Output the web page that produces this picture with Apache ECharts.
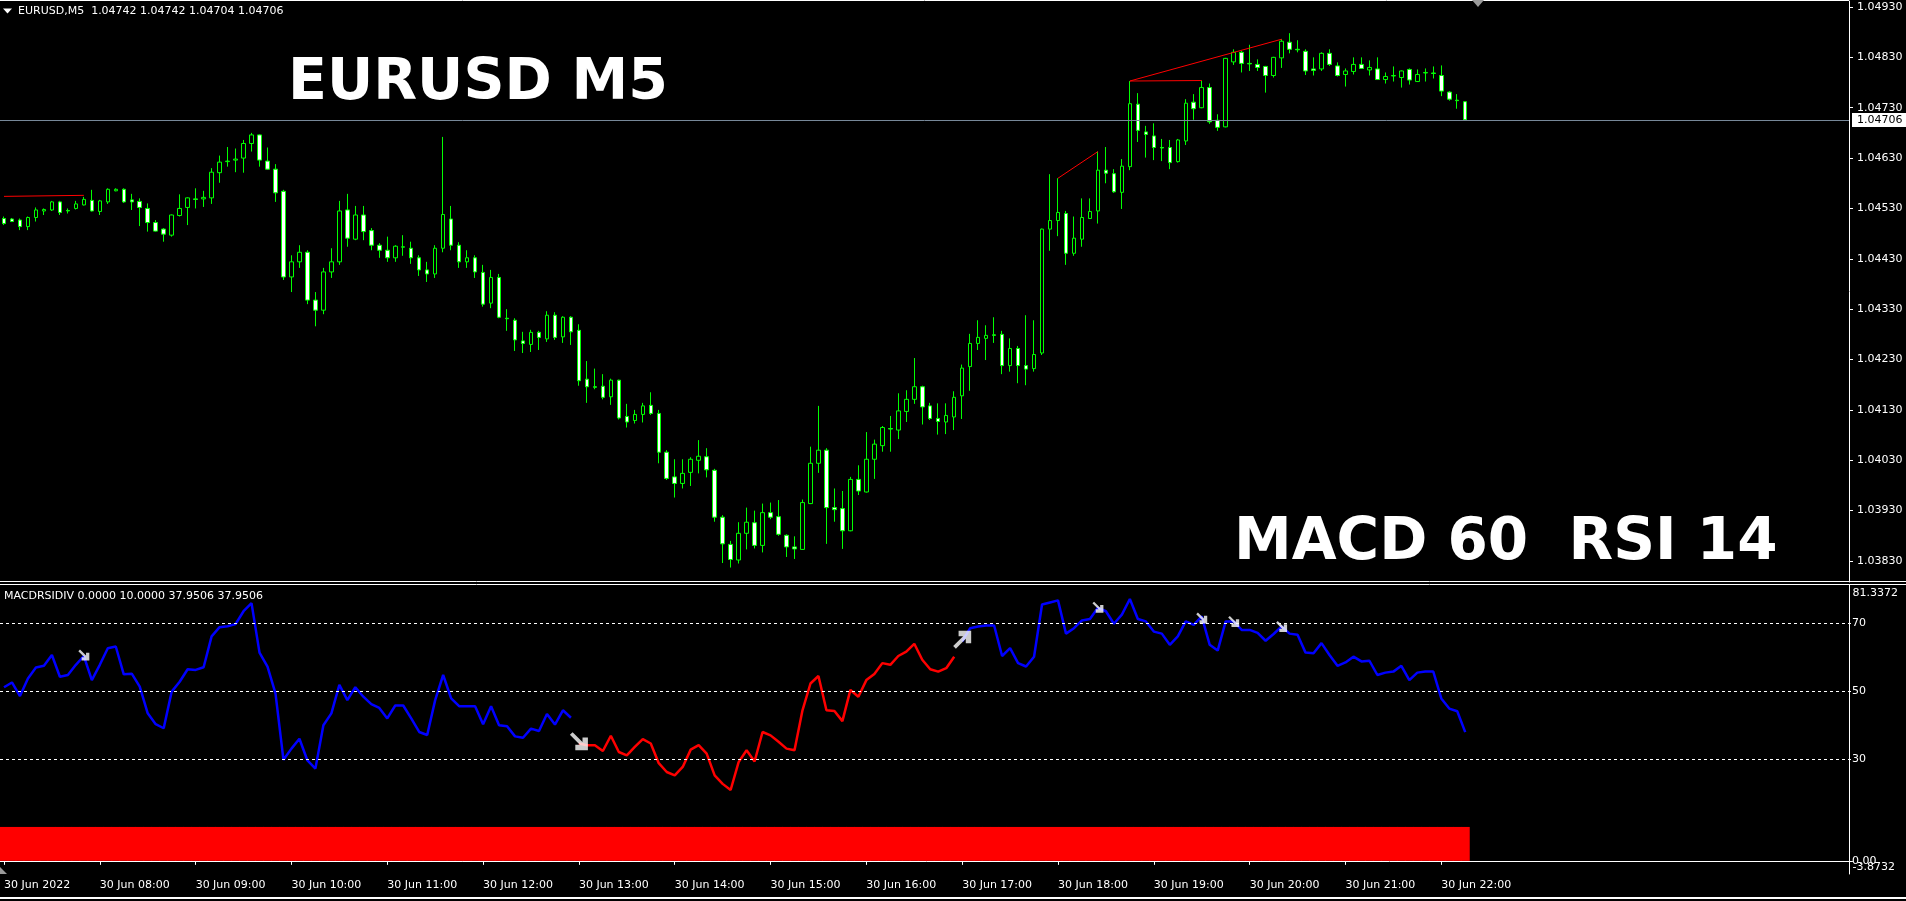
<!DOCTYPE html>
<html>
<head>
<meta charset="utf-8">
<title>EURUSD M5 - MACD 60 RSI 14</title>
<script src="https://cdn.jsdelivr.net/npm/echarts@6/dist/echarts.min.js"></script>
<style>
  html, body { margin: 0; padding: 0; background: #000; }
  #chart { width: 1906px; height: 901px; }
</style>
</head>
<body>
<div id="chart"></div>
<script>
// EURUSD M5, 30 Jun 2022, bars from 07:00 to 22:15
const opens = [
  1.04510,1.04509,1.04507,1.04494,1.04512,1.04525,1.04527,1.04543,1.04526,1.04530,
  1.04537,1.04546,1.04524,1.04543,1.04565,1.04568,1.04547,1.04544,1.04530,1.04502,
  1.04489,1.04477,1.04516,1.04532,1.04549,1.04549,1.04551,1.04601,1.04623,1.04626,
  1.04630,1.04659,1.04676,1.04624,1.04608,1.04564,1.04394,1.04424,1.04443,1.04348,
  1.04328,1.04404,1.04424,1.04527,1.04469,1.04517,1.04486,1.04457,1.04447,1.04432,
  1.04453,1.04451,1.04432,1.04408,1.04400,1.04451,1.04509,1.04457,1.04424,1.04432,
  1.04403,1.04342,1.04393,1.04312,1.04308,1.04267,1.04260,1.04284,1.04271,1.04318,
  1.04275,1.04314,1.04288,1.04191,1.04176,1.04177,1.04156,1.04189,1.04117,1.04109,
  1.04121,1.04139,1.04123,1.04046,1.03997,1.03984,1.04006,1.04030,1.04037,1.04010,
  1.03917,1.03863,1.03832,1.03885,1.03906,1.03861,1.03926,1.03918,1.03881,1.03858,
  1.03853,1.03944,1.04024,1.04050,1.03936,1.03934,1.03890,1.03992,1.03967,1.04032,
  1.04059,1.04093,1.04090,1.04127,1.04151,1.04176,1.04138,1.04113,1.04106,1.04116,
  1.04158,1.04216,1.04262,1.04272,1.04279,1.04280,1.04218,1.04252,1.04218,1.04212,
  1.04243,1.04489,1.04506,1.04520,1.04441,1.04469,1.04510,1.04525,1.04606,1.04599,
  1.04562,1.04613,1.04737,1.04682,1.04674,1.04651,1.04651,1.04623,1.04664,1.04741,
  1.04730,1.04770,1.04705,1.04692,1.04821,1.04840,1.04818,1.04816,1.04812,1.04794,
  1.04829,1.04860,1.04846,1.04842,1.04807,1.04807,1.04838,1.04813,1.04796,1.04802,
  1.04816,1.04805,1.04807,1.04786,1.04793,1.04790,1.04806,1.04782,1.04799,1.04799,
  1.04794,1.04761,1.04745,1.04742
];
const closes = [
  1.04500,1.04504,1.04494,1.04512,1.04527,1.04528,1.04543,1.04522,1.04525,1.04539,
  1.04548,1.04525,1.04545,1.04568,1.04568,1.04543,1.04543,1.04532,1.04502,1.04485,
  1.04479,1.04517,1.04530,1.04551,1.04548,1.04552,1.04602,1.04622,1.04624,1.04628,
  1.04659,1.04676,1.04626,1.04608,1.04561,1.04394,1.04424,1.04443,1.04348,1.04328,
  1.04404,1.04424,1.04525,1.04471,1.04517,1.04484,1.04457,1.04447,1.04432,1.04455,
  1.04454,1.04432,1.04408,1.04400,1.04451,1.04518,1.04457,1.04424,1.04432,1.04404,
  1.04340,1.04393,1.04314,1.04311,1.04269,1.04262,1.04284,1.04274,1.04318,1.04274,
  1.04314,1.04285,1.04188,1.04176,1.04175,1.04155,1.04189,1.04114,1.04106,1.04121,
  1.04138,1.04123,1.04046,1.03994,1.03984,1.04004,1.04032,1.04038,1.04011,1.03917,
  1.03864,1.03833,1.03885,1.03907,1.03861,1.03926,1.03917,1.03883,1.03858,1.03854,
  1.03946,1.04024,1.04050,1.03936,1.03932,1.03890,1.03992,1.03969,1.04032,1.04062,
  1.04095,1.04092,1.04128,1.04151,1.04176,1.04136,1.04113,1.04107,1.04119,1.04155,
  1.04213,1.04262,1.04274,1.04278,1.04278,1.04218,1.04252,1.04218,1.04211,1.04240,
  1.04489,1.04506,1.04522,1.04441,1.04471,1.04512,1.04524,1.04606,1.04600,1.04563,
  1.04614,1.04738,1.04685,1.04677,1.04651,1.04650,1.04621,1.04666,1.04739,1.04728,
  1.04770,1.04702,1.04691,1.04828,1.04840,1.04818,1.04817,1.04810,1.04794,1.04830,
  1.04862,1.04846,1.04845,1.04803,1.04804,1.04838,1.04816,1.04794,1.04803,1.04816,
  1.04808,1.04810,1.04786,1.04792,1.04794,1.04803,1.04785,1.04796,1.04800,1.04798,
  1.04763,1.04747,1.04744,1.04706
];
const lows = [
  1.04497,1.04503,1.04487,1.04487,1.04504,1.04517,1.04525,1.04517,1.04520,1.04528,
  1.04536,1.04524,1.04517,1.04539,1.04564,1.04541,1.04527,1.04495,1.04484,1.04484,
  1.04464,1.04474,1.04514,1.04497,1.04530,1.04533,1.04539,1.04581,1.04613,1.04602,
  1.04601,1.04643,1.04613,1.04607,1.04543,1.04388,1.04364,1.04412,1.04340,1.04296,
  1.04320,1.04392,1.04418,1.04454,1.04467,1.04467,1.04447,1.04432,1.04424,1.04424,
  1.04436,1.04420,1.04396,1.04384,1.04392,1.04443,1.04447,1.04412,1.04412,1.04392,
  1.04335,1.04332,1.04312,1.04287,1.04247,1.04243,1.04245,1.04249,1.04265,1.04269,
  1.04263,1.04259,1.04178,1.04144,1.04171,1.04151,1.04140,1.04111,1.04095,1.04103,
  1.04105,1.04120,1.04024,1.03991,1.03956,1.03974,1.03979,1.04004,1.03996,1.03908,
  1.03826,1.03817,1.03825,1.03853,1.03855,1.03847,1.03913,1.03880,1.03838,1.03834,
  1.03852,1.03943,1.04005,1.03864,1.03908,1.03854,1.03889,1.03961,1.03966,1.03993,
  1.04047,1.04047,1.04072,1.04106,1.04142,1.04101,1.04110,1.04081,1.04082,1.04090,
  1.04112,1.04168,1.04249,1.04229,1.04263,1.04201,1.04206,1.04183,1.04179,1.04206,
  1.04239,1.04446,1.04475,1.04418,1.04436,1.04454,1.04509,1.04500,1.04580,1.04561,
  1.04529,1.04606,1.04662,1.04631,1.04626,1.04624,1.04608,1.04621,1.04656,1.04706,
  1.04729,1.04698,1.04684,1.04691,1.04815,1.04800,1.04803,1.04803,1.04760,1.04790,
  1.04809,1.04838,1.04840,1.04795,1.04794,1.04803,1.04813,1.04792,1.04772,1.04796,
  1.04807,1.04794,1.04785,1.04778,1.04782,1.04770,1.04776,1.04781,1.04782,1.04788,
  1.04753,1.04744,1.04728,1.04704
];
const highs = [
  1.04514,1.04511,1.04510,1.04514,1.04532,1.04530,1.04545,1.04545,1.04530,1.04545,
  1.04553,1.04567,1.04547,1.04570,1.04570,1.04570,1.04559,1.04550,1.04540,1.04507,
  1.04491,1.04518,1.04558,1.04552,1.04570,1.04565,1.04610,1.04635,1.04652,1.04649,
  1.04666,1.04680,1.04677,1.04651,1.04618,1.04567,1.04437,1.04457,1.04447,1.04364,
  1.04412,1.04451,1.04545,1.04559,1.04535,1.04535,1.04491,1.04461,1.04474,1.04457,
  1.04477,1.04464,1.04437,1.04424,1.04457,1.04672,1.04535,1.04463,1.04447,1.04437,
  1.04418,1.04408,1.04400,1.04330,1.04312,1.04285,1.04289,1.04287,1.04326,1.04324,
  1.04316,1.04316,1.04300,1.04227,1.04212,1.04201,1.04192,1.04190,1.04142,1.04130,
  1.04144,1.04165,1.04130,1.04050,1.04032,1.04032,1.04036,1.04070,1.04054,1.04013,
  1.03921,1.03870,1.03907,1.03936,1.03930,1.03944,1.03946,1.03951,1.03883,1.03879,
  1.03952,1.04057,1.04138,1.04054,1.03974,1.03969,1.03997,1.04020,1.04086,1.04071,
  1.04098,1.04118,1.04163,1.04169,1.04233,1.04178,1.04144,1.04143,1.04143,1.04167,
  1.04220,1.04281,1.04308,1.04298,1.04314,1.04287,1.04272,1.04257,1.04318,1.04308,
  1.04490,1.04598,1.04590,1.04525,1.04514,1.04550,1.04550,1.04643,1.04652,1.04608,
  1.04628,1.04783,1.04759,1.04694,1.04699,1.04668,1.04666,1.04668,1.04747,1.04757,
  1.04784,1.04778,1.04717,1.04829,1.04846,1.04843,1.04855,1.04826,1.04813,1.04831,
  1.04866,1.04878,1.04864,1.04846,1.04830,1.04840,1.04846,1.04820,1.04808,1.04830,
  1.04830,1.04824,1.04830,1.04800,1.04812,1.04804,1.04808,1.04806,1.04808,1.04812,
  1.04814,1.04763,1.04757,1.04742
];

// MACDRSIDIV oscillator line (RSI 14)
const rsi = [
  51.2,52.6,48.6,53.8,57.0,57.5,60.7,54.3,54.8,57.8,
  60.4,53.3,57.8,62.7,63.2,55.0,55.2,51.4,43.5,40.3,
  39.1,49.9,52.8,56.5,56.3,57.1,66.2,68.9,69.2,69.8,
  73.6,76.0,61.4,57.3,49.4,29.8,33.1,36.0,29.6,27.2,
  40.0,43.5,51.9,47.4,51.2,48.4,46.2,45.1,42.0,45.8,
  45.8,42.0,38.0,37.1,47.4,54.8,47.9,45.6,45.6,45.6,
  40.3,45.6,40.0,39.7,36.7,36.3,39.0,38.3,43.3,40.2,
  44.4,42.2,34.6,34.1,34.1,32.4,36.9,32.1,31.1,33.6,
  35.9,34.6,28.8,26.2,25.2,27.7,32.8,34.1,31.6,25.2,
  22.7,20.9,29.1,32.6,29.3,38.0,37.0,35.1,33.1,32.6,
  44.4,52.3,54.5,44.4,44.2,41.2,50.4,48.4,53.3,55.1,
  58.3,57.8,60.4,61.7,64.0,59.3,56.5,55.8,56.8,60.2,
  64.7,68.6,69.1,69.4,69.4,60.4,62.7,58.3,57.3,60.2,
  75.6,76.2,76.8,67.0,68.6,70.9,71.3,74.6,73.6,69.9,
  72.6,77.2,71.3,70.6,67.6,67.0,63.7,66.2,70.6,69.6,
  72.1,63.7,62.0,70.6,70.6,68.1,68.1,67.2,64.9,66.9,
  69.1,67.0,66.7,61.4,61.2,64.2,60.7,57.5,58.5,60.2,
  58.8,59.0,54.8,55.5,55.8,57.5,53.3,55.5,55.8,55.8,
  47.9,44.9,44.1,37.9506
];
const redFrom = 72, redTo = 119;     // bars drawn in red
const signalLevel = 10;              // second buffer, red histogram
const firstBuffer = 0;

const priceTicks = [1.03830, 1.03930, 1.04030, 1.04130, 1.04230, 1.04330,
                    1.04430, 1.04530, 1.04630, 1.04730, 1.04830, 1.04930];
const mainMin = 1.037883, mainMax = 1.049419;
const rsiTicks = [0, 30, 50, 70];
const rsiLevels = [30, 50, 70];
const indMin = -3.8732, indMax = 81.3372;

// divergence trend lines on price: [bar, price] -> [bar, price]
const trendLines = [
  [[0, 1.04554], [10, 1.04556]],
  [[132, 1.04590], [137, 1.04643]],
  [[141, 1.04783], [160, 1.04866]],
  [[141, 1.04783], [150, 1.04784]]
];
// divergence arrows on oscillator: [bar, value]
const smallDownArrows = [[10, 60.7], [137, 74.8], [150, 71.6], [154, 70.6], [160, 69.1]];
const bigDownArrows = [[72, 35.3]];
const bigUpArrows = [[120, 65.2]];

const nBars = opens.length;
const nSlots = 232;
const pad = n => (n < 10 ? '0' : '') + n;
const times = [];
for (let i = 0; i < nSlots; i++) {
  if (i < nBars) {
    const m = 7 * 60 + i * 5;
    times.push('30 Jun ' + pad(Math.floor(m / 60)) + ':' + pad(m % 60));
  } else {
    times.push('');
  }
}
const lastPrice = closes[nBars - 1];

const FONT = 'DejaVu Sans';
const hourTick = i => i < nBars && i % 12 === 0;
const ARROW_DOWN = 'path://M0,1.5 L1.5,0 L7,5.5 L7,3 L10,3 L10,10 L3,10 L3,7 L5.5,7 Z';
const ARROW_UP = 'path://M0,8.5 L1.5,10 L7,4.5 L7,7 L10,7 L10,0 L3,0 L3,3 L5.5,3 Z';

const chart = echarts.init(document.getElementById('chart'));

const series = [
  {
    type: 'candlestick',
    xAxisIndex: 0, yAxisIndex: 0,
    data: opens.map((o, i) => [o, closes[i], lows[i], highs[i]]),
    barWidth: 4,
    itemStyle: {
      color: '#000000', color0: '#ffffff',
      borderColor: '#00ff00', borderColor0: '#00ff00', borderColorDoji: '#00ff00',
      borderWidth: 1
    }
  }
];
trendLines.forEach(seg => {
  series.push({
    type: 'line', xAxisIndex: 0, yAxisIndex: 0, data: seg,
    symbol: 'none', silent: true,
    lineStyle: { color: '#ff0000', width: 1 }
  });
});
series.push(
  {
    type: 'bar', xAxisIndex: 1, yAxisIndex: 1,
    data: opens.map(() => signalLevel),
    barWidth: 9, silent: true,
    itemStyle: { color: '#ff0000' }
  },
  {
    type: 'line', xAxisIndex: 1, yAxisIndex: 1,
    data: rsi.map((v, i) => (i >= redFrom && i <= redTo ? null : v)),
    symbol: 'none', connectNulls: false, silent: true,
    lineStyle: { color: '#0000ff', width: 2.5 },
    markLine: {
      silent: true, symbol: 'none', animation: false,
      label: { show: false },
      lineStyle: { color: '#ffffff', type: [3, 3], width: 1 },
      data: rsiLevels.map(v => ({ yAxis: v }))
    }
  },
  {
    type: 'line', xAxisIndex: 1, yAxisIndex: 1,
    data: rsi.map((v, i) => (i >= redFrom && i <= redTo ? v : null)),
    symbol: 'none', connectNulls: false, silent: true,
    lineStyle: { color: '#ff0000', width: 2.5 }
  },
  {
    type: 'scatter', xAxisIndex: 1, yAxisIndex: 1, data: smallDownArrows,
    symbol: ARROW_DOWN, symbolSize: 11, symbolKeepAspect: true, silent: true,
    itemStyle: { color: '#ffffff' }, z: 5
  },
  {
    type: 'scatter', xAxisIndex: 1, yAxisIndex: 1, data: bigDownArrows,
    symbol: ARROW_DOWN, symbolSize: 18, symbolKeepAspect: true, silent: true,
    itemStyle: { color: '#ffffff' }, z: 5
  },
  {
    type: 'scatter', xAxisIndex: 1, yAxisIndex: 1, data: bigUpArrows,
    symbol: ARROW_UP, symbolSize: 18, symbolKeepAspect: true, silent: true,
    itemStyle: { color: '#ffffff' }, z: 5
  }
);

const option = {
  backgroundColor: '#000000',
  animation: false,
  grid: [
    { left: -3.5, top: 1, width: 1856, height: 581 },
    { left: -3.5, top: 585, width: 1856, height: 289 }
  ],
  xAxis: [
    { type: 'category', gridIndex: 0, data: times, boundaryGap: true, show: false },
    {
      type: 'category', gridIndex: 1, data: times, boundaryGap: true,
      axisLine: { show: true, lineStyle: { color: '#ffffff' } },
      axisTick: { show: true, alignWithLabel: true, interval: hourTick, length: 4,
                  lineStyle: { color: '#ffffff' } },
      axisLabel: {
        interval: hourTick, align: 'left', margin: 6, color: '#ffffff',
        fontFamily: FONT, fontSize: 11,
        formatter: (v, i) => (i === 0 ? '30 Jun 2022' : v)
      },
      splitLine: { show: false }
    }
  ],
  yAxis: [
    {
      type: 'value', gridIndex: 0, position: 'right', offset: -3.5,
      min: mainMin, max: mainMax,
      axisLine: { show: true, lineStyle: { color: '#ffffff' } },
      axisTick: { show: true, length: 4, customValues: priceTicks, lineStyle: { color: '#ffffff' } },
      axisLabel: {
        customValues: priceTicks, margin: 8, color: '#ffffff',
        fontFamily: FONT, fontSize: 11, formatter: v => v.toFixed(5)
      },
      splitLine: { show: false }
    },
    {
      type: 'value', gridIndex: 1, position: 'right', offset: -3.5,
      min: indMin, max: indMax,
      axisLine: { show: true, lineStyle: { color: '#ffffff' } },
      axisTick: { show: false },
      axisLabel: {
        customValues: rsiTicks, margin: 3, color: '#ffffff',
        fontFamily: FONT, fontSize: 11,
        formatter: v => (v === 0 ? '0.00' : String(v))
      },
      splitLine: { show: false }
    }
  ],
  series: series
};
chart.setOption(option);

// frame, titles, bid line and extreme labels
const last = nBars - 1;
const yTop = chart.convertToPixel({ yAxisIndex: 1 }, indMax);
const yBot = chart.convertToPixel({ yAxisIndex: 1 }, indMin);
const yBid = Math.round(chart.convertToPixel({ yAxisIndex: 0 }, lastPrice));
const txt = (text, x, y, size, weight, align, fill) => ({
  type: 'text', z: 100, silent: true,
  style: {
    text: text, x: x, y: y, fill: fill || '#ffffff',
    font: (weight || 'normal') + ' ' + size + 'px "' + FONT + '"',
    textAlign: align || 'left', textVerticalAlign: 'middle'
  }
});
const hline = (x1, x2, y, color, w) => ({
  type: 'line', z: 100, silent: true,
  shape: { x1: x1, y1: y, x2: x2, y2: y },
  style: { stroke: color, lineWidth: w || 1 }
});
chart.setOption({
  graphic: [
    hline(0, 1849, 0.5, '#ffffff'),
    hline(0, 1906, 581.5, '#ffffff'),
    hline(0, 1906, 584.5, '#ffffff'),
    hline(0, 1906, 898, '#ffffff', 2),
    hline(0, 1849, yBid + 0.5, '#778899'),
    {
      type: 'rect', z: 100, silent: true,
      shape: { x: 1852, y: yBid - 7, width: 54, height: 14 },
      style: { fill: '#ffffff' }
    },
    txt(lastPrice.toFixed(5), 1857, yBid, 11, 'normal', 'left', '#000000'),
    {
      type: 'polygon', z: 100, silent: true,
      shape: { points: [[3, 8.5], [12, 8.5], [7.5, 13.5]] },
      style: { fill: '#ffffff' }
    },
    {
      type: 'polygon', z: 100, silent: true,
      shape: { points: [[1472, 0], [1484, 0], [1478, 7]] },
      style: { fill: '#9a9a9a' }
    },
    {
      type: 'polygon', z: 100, silent: true,
      shape: { points: [[0, 867], [7, 874], [0, 874]] },
      style: { fill: '#9a9a9a' }
    },
    txt('EURUSD,M5  ' + [opens[last], highs[last], lows[last], closes[last]]
          .map(v => v.toFixed(5)).join(' '), 18, 11, 11),
    txt('MACDRSIDIV ' + firstBuffer.toFixed(4) + ' ' + signalLevel.toFixed(4) + ' ' +
          rsi[last].toFixed(4) + ' ' + rsi[last].toFixed(4), 4, 596, 11),
    txt(String(indMax), 1852.5, yTop + 8, 11),
    txt(String(indMin), 1852.5, yBot - 7, 11),
    txt('EURUSD M5', 288, 84, 57, 'bold'),
    txt('MACD 60  RSI 14', 1234, 544, 58, 'bold')
  ]
});

window.addEventListener('resize', () => {
  chart.resize();
});
</script>
</body>
</html>
